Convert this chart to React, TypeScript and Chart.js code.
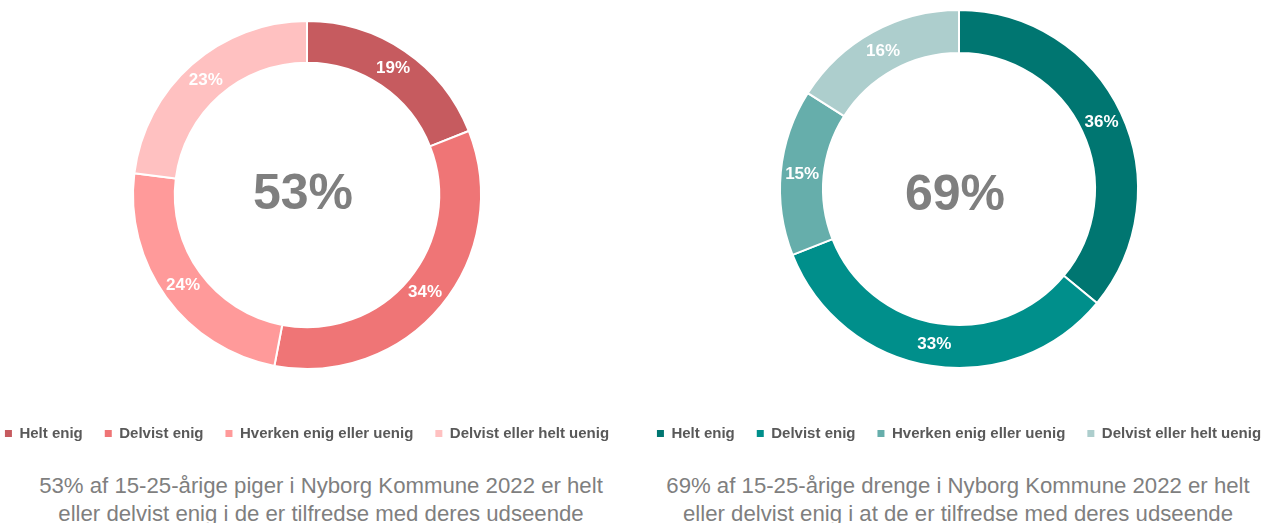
import React, { useEffect, useRef } from "react";
import { Chart, registerables } from "chart.js";

Chart.register(...registerables);

// ---------- data ----------
const categories = [
  "Helt enig",
  "Delvist enig",
  "Hverken enig eller uenig",
  "Delvist eller helt uenig",
];
const girlsValues = [19, 34, 24, 23];
const boysValues = [36, 33, 15, 16];

const girlsColors = ["#C65B5F", "#EF7576", "#FF9A9A", "#FFC1C1"];
const boysColors = ["#007671", "#008F8B", "#66AEAB", "#ADCECD"];

const girlsCaption = [
  "53% af 15-25-årige piger i Nyborg Kommune 2022 er helt",
  "eller delvist enig i de er tilfredse med deres udseende",
];
const boysCaption = [
  "69% af 15-25-årige drenge i Nyborg Kommune 2022 er helt",
  "eller delvist enig i at de er tilfredse med deres udseende",
];

const FONT = '"Liberation Sans", Arial, Helvetica, sans-serif';

// ---------- plugins ----------
const centerTextPlugin = {
  id: "centerText",
  afterDatasetsDraw(chart: any, _args: any, opts: any) {
    const arc = chart.getDatasetMeta(0).data[0];
    if (!arc) return;
    const { ctx } = chart;
    ctx.save();
    ctx.font = `bold 50px ${FONT}`;
    ctx.fillStyle = "#7F7F7F";
    ctx.textAlign = "center";
    ctx.textBaseline = "alphabetic";
    ctx.fillText(opts.text, arc.x + opts.dx, arc.y + opts.dy);
    ctx.restore();
  },
};

const sliceLabelPlugin = {
  id: "sliceLabels",
  afterDatasetsDraw(chart: any) {
    const { ctx } = chart;
    const ds = chart.data.datasets[0];
    const meta = chart.getDatasetMeta(0);
    ctx.save();
    ctx.font = `bold 17px ${FONT}`;
    ctx.fillStyle = "#FFFFFF";
    ctx.textAlign = "center";
    ctx.textBaseline = "middle";
    meta.data.forEach((arc: any, i: number) => {
      const p = arc.getCenterPoint();
      ctx.fillText(`${ds.data[i]}%`, p.x, p.y);
    });
    ctx.restore();
  },
};

function buildChart(
  canvas: HTMLCanvasElement,
  values: number[],
  colors: string[],
  padTop: number,
  legendSpacer: number,
  dx: number,
  dy: number
) {
  const baseGen = (Chart as any).overrides.doughnut.plugins.legend.labels.generateLabels;
  return new Chart(canvas, {
    type: "doughnut",
    data: {
      labels: categories,
      datasets: [
        {
          data: values,
          backgroundColor: colors,
          borderColor: "#FFFFFF",
          borderWidth: 2,
          hoverOffset: 0,
        },
      ],
    },
    options: {
      responsive: false,
      animation: false,
      events: [],
      cutout: "76%",
      layout: { padding: { top: padTop, bottom: 0, left: 0, right: 0 } },
      plugins: {
        tooltip: { enabled: false },
        title: { display: false },
        legend: {
          display: true,
          position: "bottom",
          align: "center",
          title: {
            display: true,
            text: " ",
            font: { size: 1, lineHeight: 1 },
            padding: { top: legendSpacer, bottom: 0 },
          },
          labels: {
            boxWidth: 7,
            boxHeight: 7,
            padding: 22,
            color: "#595959",
            font: { family: FONT, size: 15, weight: "bold" },
            generateLabels: (chart: any) =>
              baseGen(chart).map((l: any) => ({ ...l, lineWidth: 0 })),
          },
        },
        centerText: {
          text: `${values[0] + values[1]}%`,
          dx,
          dy,
        },
      } as any,
    },
    plugins: [centerTextPlugin, sliceLabelPlugin],
  });
}

function Caption({ lines, center }: { lines: string[]; center: number }) {
  return (
    <div
      style={{
        position: "absolute",
        left: center - 320,
        top: 472,
        width: 640,
        textAlign: "center",
        fontFamily: FONT,
        fontSize: 22.2,
        lineHeight: "27.5px",
        color: "#7F7F7F",
        whiteSpace: "nowrap",
      }}
    >
      {lines.map((l, i) => (
        <div key={i}>{l}</div>
      ))}
    </div>
  );
}

export default function App() {
  const leftRef = useRef<HTMLCanvasElement>(null);
  const rightRef = useRef<HTMLCanvasElement>(null);

  useEffect(() => {
    const a = buildChart(leftRef.current!, girlsValues, girlsColors, 20, 33, -4, 14);
    const b = buildChart(rightRef.current!, boysValues, boysColors, 9, 34, -4, 21);
    return () => {
      a.destroy();
      b.destroy();
    };
  }, []);

  return (
    <div
      style={{
        position: "fixed",
        left: 0,
        top: 0,
        width: 1265,
        height: 523,
        overflow: "hidden",
        background: "#FFFFFF",
      }}
    >
      <canvas
        ref={leftRef}
        width={680}
        height={451}
        style={{ position: "absolute", left: -33, top: 0, width: 680, height: 451 }}
      />
      <canvas
        ref={rightRef}
        width={680}
        height={451}
        style={{ position: "absolute", left: 619, top: 0, width: 680, height: 451 }}
      />
      <Caption lines={girlsCaption} center={321} />
      <Caption lines={boysCaption} center={958} />
    </div>
  );
}
